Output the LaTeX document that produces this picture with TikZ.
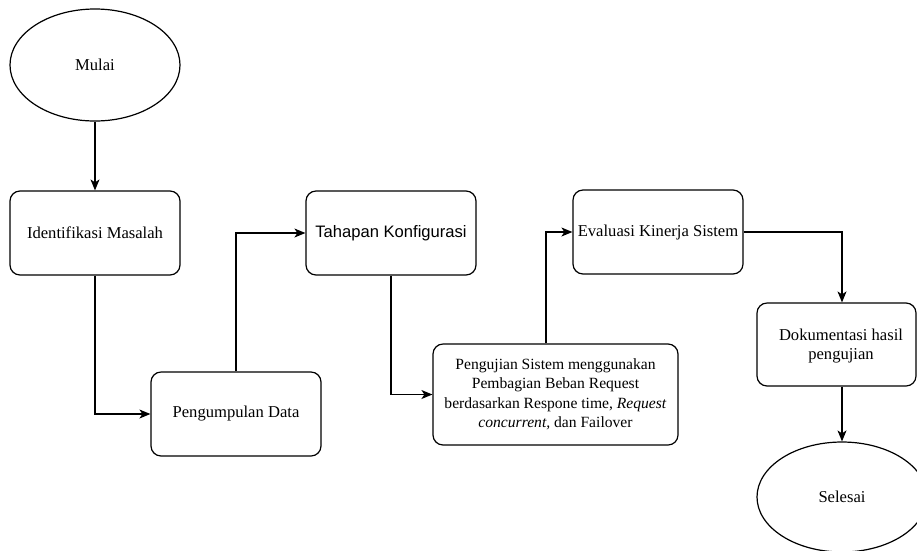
\documentclass[tikz,border=0pt]{standalone}
\usepackage{fontspec}
\setmainfont{Liberation Serif}
\newfontfamily\arialfont{Liberation Sans}
\usetikzlibrary{shapes.geometric,arrows.meta}
\tikzset{
  stepbox/.style={draw, rounded corners=10pt, line width=1.2pt, minimum width=170pt, minimum height=84pt, inner sep=0pt, align=center, font=\fontsize{16.6}{19.5}\selectfont},
  termin/.style={draw, ellipse, line width=1.2pt, minimum width=170pt, minimum height=112pt, inner sep=0pt, font=\fontsize{16.6}{19.5}\selectfont},
  arr/.style={line width=1.2pt, -{Stealth[length=11pt,width=9pt,inset=3pt]}},
  txt/.style={align=center, inner sep=0pt, font=\fontsize{16.6}{19.5}\selectfont}
}
\begin{document}
\begin{tikzpicture}[x=1pt,y=-1pt]
\clip (0,0) rectangle (917,550);
\node[termin] (mulai) at (95,65) {Mulai};
\node[stepbox] (ident) at (95,233) {Identifikasi Masalah};
\node[stepbox] (kumpul) at (236,414) {Pengumpulan Data};
\node[stepbox] (tahap) at (391,233) {\arialfont Tahapan Konfigurasi};
\node[stepbox, minimum width=245pt, minimum height=101pt, font=\fontsize{15.6}{19.5}\selectfont] (uji) at (555.5,394.5) {Pengujian Sistem menggunakan\\Pembagian Beban Request\\berdasarkan Respone time, \textit{Request}\\\textit{concurrent,} dan Failover};
\node[stepbox] (eval) at (658,232) {Evaluasi Kinerja Sistem};
\node[stepbox, minimum width=159pt, minimum height=83pt] (dok) at (836.5,344.5) {};
\node[txt] (doktext) at (841,346) {Dokumentasi hasil\\pengujian};
\node[termin, minimum height=110pt] (selesai) at (842,497) {Selesai};
\draw[arr] (mulai.south) -- (ident.north);
\draw[arr] (ident.south) |- (kumpul.west);
\draw[arr] (kumpul.north) |- (tahap.west);
\draw[arr] (tahap.south) |- (uji.west);
\draw[arr] ([xshift=-9.5pt]uji.north) |- (eval.west);
\draw[arr] (eval.east) -| ([xshift=5.5pt]dok.north);
\draw[arr] ([xshift=5.5pt]dok.south) -- (selesai.north);
\end{tikzpicture}
\end{document}
